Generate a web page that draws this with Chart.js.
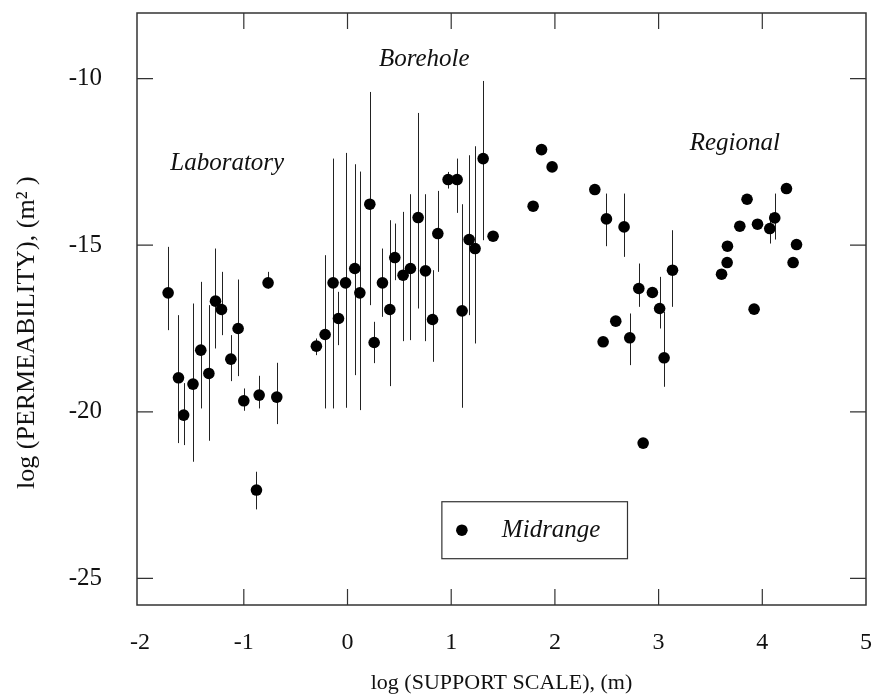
<!DOCTYPE html>
<html>
<head>
<meta charset="utf-8">
<script src="https://cdn.jsdelivr.net/npm/chart.js@4.4.0/dist/chart.umd.min.js"></script>
<style>
  html, body { margin: 0; padding: 0; background: #fff; }
</style>
</head>
<body>
<canvas id="chart" width="872" height="697"></canvas>
<script>
// log support scale (m)
const xs = [
  -1.73, -1.63, -1.58, -1.49, -1.415, -1.337, -1.273, -1.215, -1.125, -1.055,
  -1.0, -0.878, -0.852, -0.766, -0.682, -0.30, -0.216, -0.139, -0.087, -0.019,
  0.07, 0.119, 0.215, 0.257, 0.337, 0.408, 0.456, 0.536, 0.607, 0.681,
  0.752, 0.82, 0.871, 0.97, 1.057, 1.105, 1.173, 1.23, 1.308, 1.404,
  1.79, 1.871, 1.973, 2.385, 2.465, 2.497, 2.587, 2.667, 2.722, 2.809,
  2.851, 2.94, 3.01, 3.053, 3.134, 3.607, 3.661, 3.664, 3.783, 3.853,
  3.921, 3.954, 4.072, 4.12, 4.233, 4.297, 4.33
];
// log permeability (m2), midrange
const ys = [
  -16.43, -18.98, -20.1, -19.17, -18.15, -18.85, -16.68, -16.93, -18.42, -17.5,
  -19.67, -22.35, -19.5, -16.13, -19.56, -18.03, -17.68, -16.13, -17.2, -16.13,
  -15.7, -16.43, -13.77, -17.92, -16.13, -16.93, -15.37, -15.9, -15.7, -14.17,
  -15.77, -17.23, -14.65, -13.03, -13.03, -16.97, -14.83, -15.1, -12.4, -14.73,
  -13.83, -12.13, -12.65, -13.33, -17.9, -14.21, -17.28, -14.45, -17.78, -16.3,
  -20.94, -16.42, -16.9, -18.38, -15.75, -15.87, -15.52, -15.03, -14.43, -13.62,
  -16.92, -14.37, -14.5, -14.18, -13.3, -15.52, -14.98
];
// range ends (null = no range drawn)
const errHigh = [
  -15.05, -17.1, -19.14, -16.75, -16.1, -16.8, -15.1, -15.8, -17.7, -16.03,
  -19.3, -21.8, -18.92, -15.8, -18.53, -17.8, -15.3, -12.4, -16.4, -12.23,
  -12.57, -12.79, -10.4, -17.3, -15.1, -14.25, -14.35, -14.0, -13.47, -11.03,
  -13.47, -15.75, -13.37, -12.8, -12.4, -13.77, -12.3, -12.03, -10.07, null,
  null, null, null, null, null, -13.45, null, -13.45, -17.05, -15.55,
  null, null, -15.95, -17.0, -14.55, null, null, null, null, null,
  null, null, -14.05, -13.45, null, null, null
];
const errLow = [
  -17.55, -20.94, -21.0, -21.5, -19.9, -20.87, -18.1, -17.7, -19.08, -18.93,
  -19.97, -22.93, -19.9, -16.3, -20.37, -18.3, -19.9, -19.9, -18.0, -19.88,
  -18.9, -19.95, -16.8, -18.54, -17.15, -19.23, -16.05, -17.88, -17.85, -16.9,
  -17.88, -18.5, -15.8, -13.3, -14.03, -19.88, -17.1, -17.95, -14.85, null,
  null, null, null, null, null, -15.03, null, -15.35, -18.6, -16.85,
  null, null, -17.5, -19.25, -16.85, null, null, null, null, null,
  null, null, -14.95, -14.83, null, null, null
];

const xTicks = [-2, -1, 0, 1, 2, 3, 4, 5];
const yTicks = [-25, -20, -15, -10];

const regionNames = ['Laboratory', 'Borehole', 'Regional'];
const regionX = [-1.16, 0.74, 3.735];
const regionY = [-12.54, -9.42, -11.94];

const seriesName = 'Midrange';
const xTitle = 'log (SUPPORT SCALE), (m)';
const yTitle = 'log (PERMEABILITY), (m\u00B2 )';

const SERIF = "'Liberation Serif', 'Times New Roman', serif";
const INK = '#111';

const decorations = {
  id: 'decorations',
  beforeDatasetsDraw(chart) {
    const { ctx, scales: { x, y } } = chart;
    ctx.save();
    ctx.strokeStyle = '#222';
    ctx.lineWidth = 1;
    xs.forEach((v, i) => {
      if (errHigh[i] == null) return;
      const px = Math.round(x.getPixelForValue(v)) + 0.5;
      ctx.beginPath();
      ctx.moveTo(px, y.getPixelForValue(errHigh[i]));
      ctx.lineTo(px, y.getPixelForValue(errLow[i]));
      ctx.stroke();
    });
    ctx.restore();
  },
  afterDraw(chart) {
    const { ctx, chartArea: a, scales: { x, y } } = chart;
    ctx.save();
    // frame
    ctx.strokeStyle = '#333';
    ctx.lineWidth = 1.5;
    ctx.strokeRect(a.left, a.top, a.right - a.left, a.bottom - a.top);
    // inward ticks on all four sides
    const tl = 16;
    ctx.lineWidth = 1.2;
    ctx.beginPath();
    xTicks.forEach(t => {
      const px = x.getPixelForValue(t);
      if (px - a.left < 6 || a.right - px < 6) return;
      ctx.moveTo(px, a.bottom); ctx.lineTo(px, a.bottom - tl);
      ctx.moveTo(px, a.top); ctx.lineTo(px, a.top + tl);
    });
    yTicks.forEach(t => {
      const py = y.getPixelForValue(t);
      ctx.moveTo(a.left, py); ctx.lineTo(a.left + tl, py);
      ctx.moveTo(a.right, py); ctx.lineTo(a.right - tl, py);
    });
    ctx.stroke();

    // region labels
    ctx.fillStyle = INK;
    ctx.font = 'italic 25px ' + SERIF;
    ctx.textAlign = 'center';
    ctx.textBaseline = 'middle';
    regionNames.forEach((n, i) => {
      ctx.fillText(n, x.getPixelForValue(regionX[i]), y.getPixelForValue(regionY[i]));
    });

    // legend box
    const lx0 = x.getPixelForValue(0.91), lx1 = x.getPixelForValue(2.70);
    const ly0 = y.getPixelForValue(-22.7), ly1 = y.getPixelForValue(-24.41);
    ctx.strokeStyle = '#333';
    ctx.lineWidth = 1.2;
    ctx.strokeRect(lx0, ly0, lx1 - lx0, ly1 - ly0);
    const ly = (ly0 + ly1) / 2;
    ctx.fillStyle = '#000';
    ctx.beginPath();
    ctx.arc(lx0 + 20, ly, 5.8, 0, Math.PI * 2);
    ctx.fill();
    ctx.fillStyle = INK;
    ctx.textAlign = 'left';
    ctx.fillText(seriesName, lx0 + 60, ly);

    // y axis title
    ctx.font = '26px ' + SERIF;
    ctx.textAlign = 'center';
    ctx.translate(27, a.top + (a.bottom - a.top) * 0.54);
    ctx.rotate(-Math.PI / 2);
    ctx.fillText(yTitle, 0, 0);
    ctx.restore();
  }
};

new Chart(document.getElementById('chart'), {
  type: 'scatter',
  data: {
    datasets: [{
      label: seriesName,
      data: xs.map((v, i) => ({ x: v, y: ys[i] })),
      pointRadius: 5.8,
      pointHoverRadius: 5.8,
      backgroundColor: '#000',
      borderWidth: 0,
      showLine: false
    }]
  },
  options: {
    responsive: false,
    animation: false,
    layout: { padding: { left: 0, top: 13, right: 6, bottom: 0 } },
    plugins: {
      legend: { display: false },
      tooltip: { enabled: false }
    },
    scales: {
      x: {
        type: 'linear',
        min: -2.03,
        max: 5,
        afterFit: s => { s.height = 92; s.paddingLeft = 0; s.paddingRight = 0; },
        afterBuildTicks: s => { s.ticks = xTicks.map(v => ({ value: v })); },
        grid: { display: false, drawTicks: false },
        border: { display: false },
        ticks: {
          padding: 23,
          color: INK,
          font: { family: SERIF, size: 24 },
          callback: v => String(v)
        },
        title: {
          display: true,
          text: xTitle,
          color: INK,
          font: { family: SERIF, size: 22 },
          padding: { top: 0, bottom: 1 }
        }
      },
      y: {
        type: 'linear',
        min: -25.8,
        max: -8.03,
        afterFit: s => { s.width = 137; s.paddingTop = 0; s.paddingBottom = 0; },
        afterBuildTicks: s => { s.ticks = yTicks.map(v => ({ value: v })); },
        grid: { display: false, drawTicks: false },
        border: { display: false },
        ticks: {
          padding: 35,
          color: INK,
          font: { family: SERIF, size: 25 },
          callback: v => String(v)
        }
      }
    }
  },
  plugins: [decorations]
});
</script>
</body>
</html>
